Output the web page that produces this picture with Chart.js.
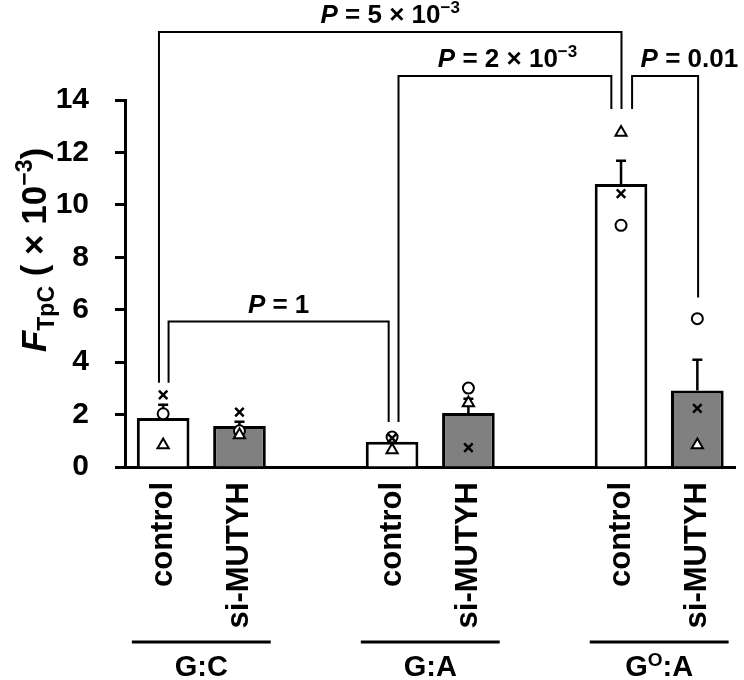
<!DOCTYPE html>
<html><head><meta charset="utf-8">
<script src="https://cdn.jsdelivr.net/npm/chart.js@4/dist/chart.umd.min.js"></script>
<style>html,body{margin:0;padding:0;background:#fff;}#wrap{width:744px;height:680px;position:relative;}</style>
</head><body><div id="wrap"><canvas id="c"></canvas></div>
<script>
// ---- data ----
const categories = ['control','si-MUTYH','','control','si-MUTYH','','control','si-MUTYH'];
const groupNames = ['G:C','G:A','GO:A'];
const groupCenters = [0.5, 3.5, 6.5];
const barMeans   = [1.87, 1.56, null, 0.96, 2.06, null, 10.80, 2.92];
const errorTops  = [2.37, 1.73, null, 1.15, 2.60, null, 11.68, 4.09];
const circlePts  = [2.03, 1.38, null, 1.14, 3.01, null, 9.22, 5.66];
const trianglePts= [0.84, 1.22, null, 0.65, 2.44, null, 12.76, 0.84];
const crossPts   = [2.75, 2.09, null, 1.10, 0.74, null, 10.43, 2.24];
const yMin = 0, yMax = 14, yStep = 2;
// significance brackets (x in category units, y in axis units)
const bracketFrom   = [-0.055, 3.084, 6.145, 0.071];
const bracketTo     = [6.006, 5.873, 7.010, 2.955];
const bracketTop    = [16.59, 14.92, 14.92, 5.55];
const bracketLeftEnd  = [3.21, 1.72, 13.66, 3.21];
const bracketRightEnd = [13.66, 13.66, 6.47, 1.72];
const bracketLabelX = [2.975, 4.513, 6.896, 1.513];
const bracketValue  = ['5 \u00d7 10', '2 \u00d7 10', '0.01', '1'];
const bracketExp    = ['\u22123', '\u22123', '', ''];

const FONT = '"Liberation Sans", Arial, Helvetica, sans-serif';
const barColors = categories.map(c => c === 'control' ? '#ffffff' : '#808080');

function fontStr(s){ return (s.italic ? 'italic ' : '') + 'bold ' + s.size + 'px ' + FONT; }
function drawRich(ctx, segs, x, y, align){
  let total = 0;
  segs.forEach(s => { ctx.font = fontStr(s); s.w = ctx.measureText(s.t).width; total += s.w; });
  let cx = align === 'center' ? x - total/2 : (align === 'right' ? x - total : x);
  ctx.textAlign = 'left'; ctx.textBaseline = 'alphabetic';
  segs.forEach(s => { ctx.font = fontStr(s); ctx.fillText(s.t, cx, y + (s.dy || 0)); cx += s.w; });
}

const annotate = {
  id: 'annotate',
  afterDatasetDraw(chart, args){
    if (args.index !== 0) return;
    const ctx = chart.ctx, xs = chart.scales.x, ys = chart.scales.y;
    ctx.save();
    ctx.strokeStyle = '#000'; ctx.lineWidth = 2.5;
    barMeans.forEach((m,i) => {
      if (m === null || errorTops[i] === null) return;
      const x = xs.getPixelForValue(i), y0 = ys.getPixelForValue(m), y1 = ys.getPixelForValue(errorTops[i]);
      ctx.beginPath(); ctx.moveTo(x, y0); ctx.lineTo(x, y1);
      ctx.moveTo(x - 5, y1); ctx.lineTo(x + 5, y1); ctx.stroke();
    });
    ctx.restore();
  },
  afterDraw(chart){
    const ctx = chart.ctx, xs = chart.scales.x, ys = chart.scales.y, ca = chart.chartArea;
    ctx.save();
    ctx.fillStyle = '#000'; ctx.strokeStyle = '#000';
    // brackets
    ctx.lineWidth = 2;
    bracketFrom.forEach((f,i) => {
      const x1 = xs.getPixelForValue(f), x2 = xs.getPixelForValue(bracketTo[i]);
      const yt = ys.getPixelForValue(bracketTop[i]);
      ctx.beginPath();
      ctx.moveTo(x1, ys.getPixelForValue(bracketLeftEnd[i]));
      ctx.lineTo(x1, yt); ctx.lineTo(x2, yt);
      ctx.lineTo(x2, ys.getPixelForValue(bracketRightEnd[i]));
      ctx.stroke();
      const segs = [{t:'P', size:26, italic:true}, {t:' = ' + bracketValue[i], size:26}];
      if (bracketExp[i]) segs.push({t: bracketExp[i], size:17, dy:-10});
      drawRich(ctx, segs, xs.getPixelForValue(bracketLabelX[i]), yt - 9, 'center');
    });
    // group lines and names
    ctx.lineWidth = 3;
    groupCenters.forEach((g,i) => {
      const xa = xs.getPixelForValue(g - 0.91), xb = xs.getPixelForValue(g + 0.91);
      const yl = ca.bottom + 175;
      ctx.beginPath(); ctx.moveTo(xa, yl); ctx.lineTo(xb, yl); ctx.stroke();
      const name = groupNames[i];
      let segs;
      if (name === 'GO:A') segs = [{t:'G', size:29}, {t:'O', size:19, dy:-10}, {t:':A', size:29}];
      else segs = [{t:name, size:29}];
      drawRich(ctx, segs, xs.getPixelForValue(g), ca.bottom + 209, 'center');
    });
    // y axis title (rotated)
    ctx.translate(46, 250);
    ctx.rotate(-Math.PI/2);
    drawRich(ctx, [
      {t:'F', size:35, italic:true},
      {t:'TpC', size:23, dy:8},
      {t:' ( \u00d7 10', size:35},
      {t:'\u22123', size:23, dy:-14},
      {t:')', size:35}
    ], 0, 0, 'center');
    ctx.restore();
  }
};

new Chart(document.getElementById('c'), {
  type: 'bar',
  data: {
    labels: categories,
    datasets: [
      { type:'bar', data: barMeans, backgroundColor: barColors, borderColor:'#000', borderWidth:3,
        barPercentage:0.69, categoryPercentage:1, order:3 },
      { type:'line', data: circlePts, showLine:false, pointStyle:'circle', pointRadius:5.5,
        pointBackgroundColor:'#fff', pointBorderColor:'#000', pointBorderWidth:2, order:2 },
      { type:'line', data: trianglePts, showLine:false, pointStyle:'triangle', pointRadius:6.5,
        pointBackgroundColor:'#fff', pointBorderColor:'#000', pointBorderWidth:2, order:1 },
      { type:'line', data: crossPts, showLine:false, pointStyle:'crossRot', pointRadius:6,
        pointBackgroundColor:'#fff', pointBorderColor:'#000', pointBorderWidth:2.5, order:0 }
    ]
  },
  options: {
    responsive: true, maintainAspectRatio: false, animation: false,
    layout: { padding: { top: 100, right: 3, left: 0, bottom: 0 } },
    plugins: { legend: { display:false }, tooltip: { enabled:false } },
    scales: {
      x: {
        offset: true,
        grid: { display:false, drawTicks:false },
        border: { display:true, color:'#000', width:3 },
        ticks: { color:'#000', font:{ family: FONT, size:31, weight:'bold' }, maxRotation:90, minRotation:90, padding:15, autoSkip:false },
        afterFit(s){ s.height = 213; s.paddingLeft = 0; s.paddingRight = 0; }
      },
      y: {
        min: yMin, max: yMax,
        grid: { display:true, drawOnChartArea:false, drawTicks:true, tickLength:10, tickWidth:3, tickColor:'#000' },
        border: { display:true, color:'#000', width:3 },
        ticks: { stepSize: yStep, color:'#000', font:{ family: FONT, size:30, weight:'bold' }, padding:26 },
        afterFit(s){ s.width = 125; s.paddingTop = 0; s.paddingBottom = 0; }
      }
    }
  },
  plugins: [annotate]
});
</script></body></html>
